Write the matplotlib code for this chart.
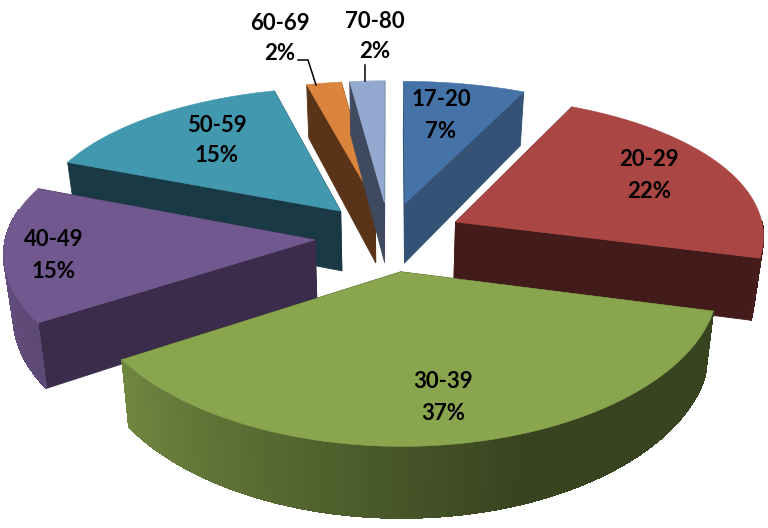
import numpy as np
import matplotlib
matplotlib.use("Agg")
import matplotlib.pyplot as plt
from matplotlib.patches import Polygon

# age groups and their share, clockwise from 12 o'clock
categories = ["17-20", "20-29", "30-39", "40-49", "50-59", "60-69", "70-80"]
shares = [7, 22, 37, 15, 15, 2, 2]

top_colors = ["#4572A7", "#AA4643", "#89A54E", "#71588F", "#4198AF", "#DB843D", "#93A9CF"]
wall_colors = ["#335276", "#431B1A", "#36401F", "#3A2C4A", "#193A44", "#5A3418", "#3F4A5E"]

# label centres in pixels (middle between the two lines)
label_pos = [(441, 116), (649, 176), (443, 398), (54, 256), (217, 141), (280, 39), (375, 37)]

# fake 3d camera, values fitted on the picture
CX, CY = 389, 236.6
R = 309
K = 144.4
PERSP_X = 0.085
PERSP_Y = 0.12
EXPLODE = 0.24
HEIGHT = 61
SHRINK = 0.975


def project(x, v, low=False):
    sx = 1 / (1 - PERSP_X * v)
    sy = 1 / (1 - PERSP_Y * v)
    px = x * R * sx
    py = K * v * sy
    if low:
        return CX + px * SHRINK, CY + py + HEIGHT * sy
    return CX + px, CY + py


def wall_shade(theta):
    # outer wall goes from dark on the right to nearly flat colour on the left
    return np.interp(theta, [160, 237, 270], [0.41, 0.82, 0.9])


def mix(color, f):
    rgb = np.array(matplotlib.colors.to_rgb(color))
    return tuple(rgb * f)


def draw_slice(ax, start, end, top, wall):
    mid = np.radians((start + end) / 2)
    ox, ov = EXPLODE * np.sin(mid), -EXPLODE * np.cos(mid)
    thetas = np.linspace(start, end, max(int(end - start) * 2, 4) + 1)
    xs = ox + np.sin(np.radians(thetas))
    vs = ov - np.cos(np.radians(thetas))

    faces = []
    # radial walls
    for x, v in [(xs[0], vs[0]), (xs[-1], vs[-1])]:
        pts = [project(ox, ov), project(x, v), project(x, v, True), project(ox, ov, True)]
        faces.append(((ov + v) / 2, pts, wall, True))
    # outer wall, only the part facing us
    for i in range(len(thetas) - 1):
        tm = (thetas[i] + thetas[i + 1]) / 2
        if -np.cos(np.radians(tm)) < 0 and not 255 < tm < 282:
            continue
        pts = [project(xs[i], vs[i]), project(xs[i + 1], vs[i + 1]),
               project(xs[i + 1], vs[i + 1], True), project(xs[i], vs[i], True)]
        faces.append((vs[i] + 1, pts, mix(top, wall_shade(tm)), False))

    faces.sort(key=lambda f: f[0])
    for _, pts, col, smooth in faces:
        ax.add_patch(Polygon(pts, closed=True, facecolor=col, edgecolor=col,
                             linewidth=0.6, antialiased=smooth))

    outline = [project(ox, ov)] + [project(x, v) for x, v in zip(xs, vs)]
    ax.add_patch(Polygon(outline, closed=True, facecolor=top, edgecolor=top, linewidth=0.4))


fig = plt.figure(figsize=(7.68, 5.28), dpi=100)
ax = fig.add_axes([0, 0, 1, 1])
ax.set_xlim(0, 768)
ax.set_ylim(528, 0)
ax.axis("off")

edges = np.cumsum([0] + shares) / sum(shares) * 360
# back slices first, front one last
for i in [5, 6, 0, 4, 1, 3, 2]:
    draw_slice(ax, edges[i], edges[i + 1], top_colors[i], wall_colors[i])

# leader lines for the two thin slices
ax.plot([298, 308, 316], [60, 60, 85], color="black", lw=1.1)
ax.plot([365, 365], [65, 81], color="black", lw=1.1)

for name, share, (x, y) in zip(categories, shares, label_pos):
    ax.text(x, y - 16, name, ha="center", va="center", fontsize=16, family="Lato", weight="bold", color="black")
    ax.text(x, y + 15, f"{share}%", ha="center", va="center", fontsize=16, family="Lato", weight="bold", color="black")

fig.savefig("out.png", dpi=100)
